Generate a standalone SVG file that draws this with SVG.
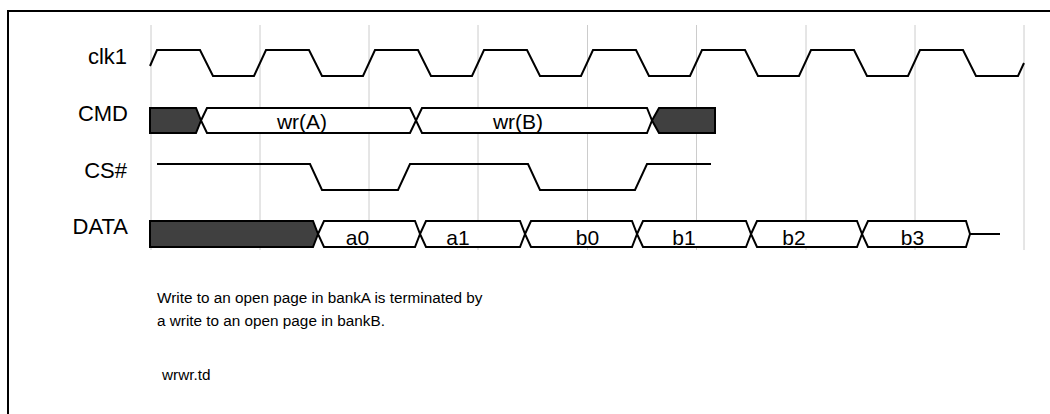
<svg xmlns="http://www.w3.org/2000/svg" width="1050" height="414" viewBox="0 0 1050 414">
<style>
.grid{stroke:#cccccc;stroke-width:1;fill:none}
.wave{stroke:#000;stroke-width:2;fill:none;stroke-linejoin:miter}
.bus{stroke:#000;stroke-width:2;fill:#fff}
.dark{stroke:#000;stroke-width:2;fill:#404040}
.lbl{font-family:"Liberation Sans",Arial,sans-serif;font-size:22px;fill:#000}
.sig{font-family:"Liberation Sans",Arial,sans-serif;font-size:21px;fill:#000}
.txt{font-family:"Liberation Sans",Arial,sans-serif;font-size:15.3px;fill:#000}
</style>
<rect width="1050" height="414" fill="#fff"/>
<path d="M8,414 V11 H1050" stroke="#000" stroke-width="2" fill="none"/>
<g id="grid">
<line class="grid" x1="151" y1="25" x2="151" y2="250"/>
<line class="grid" x1="260" y1="25" x2="260" y2="250"/>
<line class="grid" x1="369" y1="25" x2="369" y2="250"/>
<line class="grid" x1="478" y1="25" x2="478" y2="250"/>
<line class="grid" x1="587.5" y1="25" x2="587.5" y2="250"/>
<line class="grid" x1="696.5" y1="25" x2="696.5" y2="250"/>
<line class="grid" x1="806" y1="25" x2="806" y2="250"/>
<line class="grid" x1="915" y1="25" x2="915" y2="250"/>
<line class="grid" x1="1024" y1="25" x2="1024" y2="250"/>
</g>
<g id="clk1">
<text class="lbl" x="127" y="64" text-anchor="end">clk1</text>
<path class="wave" d="M150,66 L157,50 H200 L213,76 H254 L266,50 H309 L322,76 H363 L375,50 H418 L431,76 H472 L484,50 H527 L540,76 H581 L593,50 H636 L649,76 H690 L702,50 H745 L758,76 H799 L811,50 H854 L867,76 H908 L920,50 H963 L976,76 H1018 L1024,63"/>
</g>
<g id="cmd">
<text class="lbl" x="128" y="121" text-anchor="end">CMD</text>
<path class="dark" d="M150,108 H196 L201,120.5 L196,133 H150 Z"/>
<path class="bus" d="M201,120.5 L207,108 H410 L416,120.5 L410,133 H207 Z"/>
<path class="bus" d="M416,120.5 L422,108 H647 L652,120.5 L647,133 H422 Z"/>
<path class="dark" d="M652,120.5 L659,108 H715 V133 H659 Z"/>
<text class="sig" x="302" y="129" text-anchor="middle">wr(A)</text>
<text class="sig" x="518" y="129" text-anchor="middle">wr(B)</text>
</g>
<g id="cs">
<text class="lbl" x="127" y="178" text-anchor="end">CS#</text>
<path class="wave" d="M157,164 H310 L322,190 H398 L410,164 H528 L540,190 H635 L647,164 H711"/>
</g>
<g id="data">
<text class="lbl" x="128" y="234" text-anchor="end">DATA</text>
<path class="dark" d="M150,221 H313 L318,234 L313,247 H150 Z"/>
<path class="bus" d="M318,234 L324,221 H415 L420,234 L415,247 H324 Z"/>
<path class="bus" d="M420,234 L426,221 H520 L525,234 L520,247 H426 Z"/>
<path class="bus" d="M525,234 L531,221 H632 L637,234 L632,247 H531 Z"/>
<path class="bus" d="M637,234 L643,221 H746 L751,234 L746,247 H643 Z"/>
<path class="bus" d="M751,234 L757,221 H857 L862,234 L857,247 H757 Z"/>
<path class="bus" d="M862,234 L868,221 H966 L970,234 L966,247 H868 Z"/>
<path class="wave" d="M970,234 H1000"/>
<text class="sig" x="357.5" y="245" text-anchor="middle">a0</text>
<text class="sig" x="458" y="245" text-anchor="middle">a1</text>
<text class="sig" x="587.5" y="245" text-anchor="middle">b0</text>
<text class="sig" x="684" y="245" text-anchor="middle">b1</text>
<text class="sig" x="794" y="245" text-anchor="middle">b2</text>
<text class="sig" x="912.5" y="245" text-anchor="middle">b3</text>
</g>
<g id="notes">
<text class="txt" x="157" y="303">Write to an open page in bankA is terminated by</text>
<text class="txt" x="157" y="326">a write to an open page in bankB.</text>
<text class="txt" x="162" y="380">wrwr.td</text>
</g>
</svg>
